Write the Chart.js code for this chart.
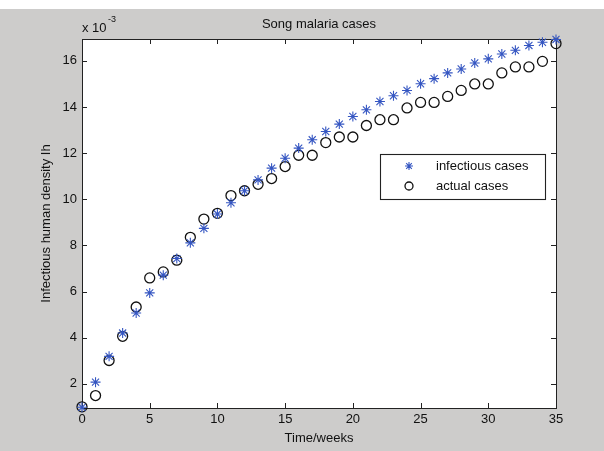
<!DOCTYPE html>
<html>
<head>
<meta charset="utf-8">
<script src="https://cdn.jsdelivr.net/npm/chart.js@4.4.0/dist/chart.umd.min.js"></script>
<style>
    html, body { margin: 0; padding: 0; background: #fff; }
    #wrap { width: 604px; height: 451px; position: relative; }
</style>
</head>
<body>
<div id="wrap"><canvas id="songChart" width="604" height="451"></canvas></div>
<script>
// weeks 0..35, values in units of 1e-3
const weeks = [0, 1, 2, 3, 4, 5, 6, 7, 8, 9, 10, 11, 12, 13, 14, 15, 16, 17,
    18, 19, 20, 21, 22, 23, 24, 25, 26, 27, 28, 29, 30, 31, 32, 33, 34, 35];
const infectiousCases = [0.98, 2.07, 3.19, 4.20, 5.07, 5.94, 6.71, 7.43, 8.11, 8.74, 9.36, 9.85,
    10.37, 10.84, 11.35, 11.78, 12.22, 12.58, 12.94, 13.26, 13.59, 13.88, 14.24, 14.49,
    14.72, 15.01, 15.23, 15.48, 15.65, 15.91, 16.09, 16.30, 16.46, 16.67, 16.81, 16.93];
const actualCases = [1.00, 1.49, 3.01, 4.06, 5.33, 6.59, 6.85, 7.36, 8.35, 9.14, 9.39, 10.16,
    10.37, 10.65, 10.90, 11.42, 11.91, 11.91, 12.46, 12.70, 12.70, 13.20, 13.45, 13.45,
    13.96, 14.20, 14.20, 14.46, 14.72, 15.00, 15.00, 15.48, 15.74, 15.74, 15.98, 16.75];
const xTicks = [0, 5, 10, 15, 20, 25, 30, 35];
const yTicks = [2, 4, 6, 8, 10, 12, 14, 16];

const FONT = 'Liberation Sans, Arial, sans-serif';
const STAR_COLOR = '#3556c2';

const toPoints = (ys) => weeks.map((w, i) => ({ x: w, y: ys[i] }));

// MATLAB-like frame: grey figure, box, inward ticks, titles, legend
const matlabFrame = {
    id: 'matlabFrame',
    beforeDraw(chart) {
        const ctx = chart.ctx;
        const a = chart.chartArea;
        ctx.save();
        ctx.fillStyle = '#fff';
        ctx.fillRect(0, 0, chart.width, chart.height);
        ctx.fillStyle = '#cdcccb';
        ctx.fillRect(0, 9, chart.width, chart.height - 9);
        ctx.fillStyle = '#fff';
        ctx.fillRect(a.left, a.top, a.right - a.left, a.bottom - a.top);
        ctx.restore();
    },
    beforeDatasetsDraw(chart) {
        const ctx = chart.ctx;
        const a = chart.chartArea;
        const xs = chart.scales.x, ys = chart.scales.y;
        ctx.save();
        ctx.strokeStyle = '#222';
        ctx.lineWidth = 1;
        ctx.strokeRect(Math.round(a.left) + 0.5, Math.round(a.top) + 0.5,
            Math.round(a.right - a.left), Math.round(a.bottom - a.top));

        ctx.beginPath();
        xTicks.forEach(v => {
            const px = Math.round(xs.getPixelForValue(v)) + 0.5;
            ctx.moveTo(px, a.bottom); ctx.lineTo(px, a.bottom - 5);
            ctx.moveTo(px, a.top); ctx.lineTo(px, a.top + 5);
        });
        yTicks.forEach(v => {
            const py = Math.round(ys.getPixelForValue(v)) + 0.5;
            ctx.moveTo(a.left, py); ctx.lineTo(a.left + 5, py);
            ctx.moveTo(a.right, py); ctx.lineTo(a.right - 5, py);
        });
        ctx.stroke();

        ctx.fillStyle = '#111';
        ctx.font = '13px ' + FONT;
        ctx.textAlign = 'center';
        ctx.textBaseline = 'middle';
        ctx.fillText('Song malaria cases', (a.left + a.right) / 2, 24);
        ctx.fillText('Time/weeks', (a.left + a.right) / 2, 438);

        ctx.textAlign = 'left';
        ctx.fillText('x 10', a.left, 28);
        ctx.font = '9px ' + FONT;
        ctx.fillText('-3', a.left + 26, 20);

        ctx.font = '13px ' + FONT;
        ctx.translate(46, (a.top + a.bottom) / 2);
        ctx.rotate(-Math.PI / 2);
        ctx.textAlign = 'center';
        ctx.fillText('Infectious human density Ih', 0, 0);
        ctx.restore();
    },
    afterDraw(chart) {
        const ctx = chart.ctx;
        // legend
        ctx.save();
        const lx = 380, ly = 154, lw = 165, lh = 45;
        ctx.fillStyle = '#fff';
        ctx.fillRect(lx, ly, lw, lh);
        ctx.strokeStyle = '#222';
        ctx.strokeRect(lx + 0.5, ly + 0.5, lw, lh);
        ctx.font = '13px ' + FONT;
        ctx.textBaseline = 'middle';
        ctx.textAlign = 'left';
        chart.data.datasets.forEach((ds, i) => {
            const cy = ly + 12 + i * 20;
            ctx.strokeStyle = ds.borderColor;
            ctx.fillStyle = ds.backgroundColor;
            ctx.lineWidth = ds.borderWidth;
            Chart.helpers.drawPoint(ctx, {
                pointStyle: ds.pointStyle, radius: ds.pointRadius - 1,
                borderWidth: ds.borderWidth, rotation: 0
            }, 409, cy);
            ctx.fillStyle = '#111';
            ctx.fillText(ds.label, 436, cy);
        });
        ctx.restore();
    }
};

new Chart(document.getElementById('songChart'), {
    type: 'scatter',
    data: {
        datasets: [{
            label: 'infectious cases',
            data: toPoints(infectiousCases),
            pointStyle: 'star',
            pointRadius: 5,
            borderWidth: 1.1,
            borderColor: STAR_COLOR,
            backgroundColor: STAR_COLOR,
            clip: false
        }, {
            label: 'actual cases',
            data: toPoints(actualCases),
            pointStyle: 'circle',
            pointRadius: 5,
            borderWidth: 1.3,
            borderColor: '#111',
            backgroundColor: 'rgba(0,0,0,0)',
            clip: false
        }]
    },
    options: {
        responsive: false,
        animation: false,
        events: [],
        layout: { padding: { left: 0, top: 39, right: 48, bottom: 0 } },
        plugins: {
            legend: { display: false },
            tooltip: { enabled: false },
            title: { display: false }
        },
        scales: {
            x: {
                type: 'linear',
                min: 0,
                max: 35,
                afterBuildTicks: (s) => { s.ticks = xTicks.map(v => ({ value: v })); },
                afterFit: (s) => { s.height = 43; },
                grid: { display: false, drawTicks: false },
                border: { display: false },
                ticks: { padding: 4, color: '#111', font: { family: FONT, size: 13 } }
            },
            y: {
                type: 'linear',
                min: 0.95,
                max: 16.95,
                afterBuildTicks: (s) => { s.ticks = yTicks.map(v => ({ value: v })); },
                afterFit: (s) => { s.width = 82; },
                grid: { display: false, drawTicks: false },
                border: { display: false },
                ticks: { padding: 5, color: '#111', font: { family: FONT, size: 13 } }
            }
        }
    },
    plugins: [matlabFrame]
});
</script>
</body>
</html>
